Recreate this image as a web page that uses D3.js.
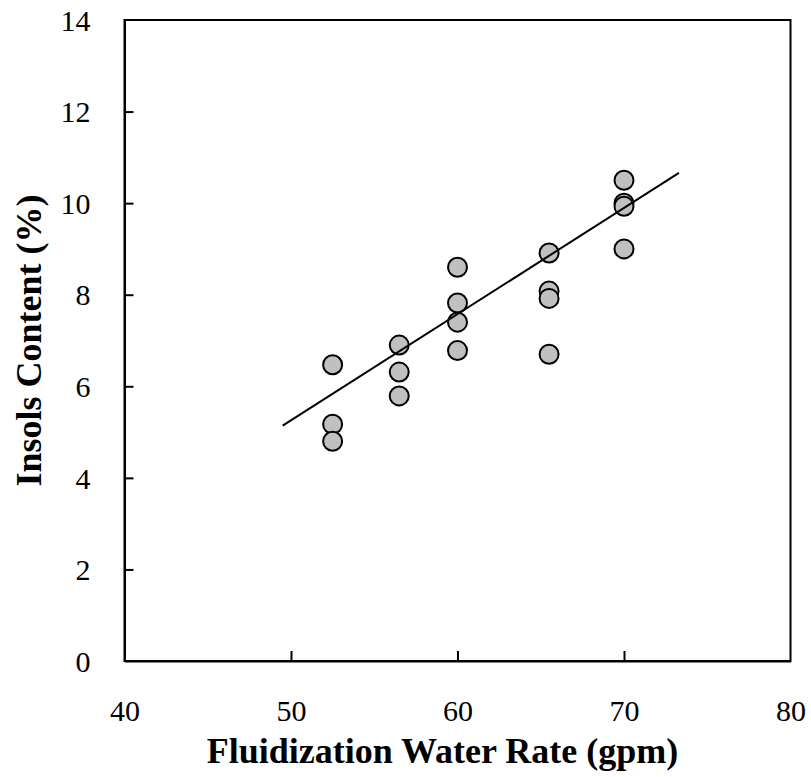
<!DOCTYPE html>
<html>
<head>
<meta charset="utf-8">
<script src="https://cdn.jsdelivr.net/npm/d3@7"></script>
<style>
  html, body { margin: 0; padding: 0; background: #fff; }
  svg { display: block; }
</style>
</head>
<body>
<svg id="chart" width="811" height="777"></svg>
<script>
// Data
const waterRate = [52.5, 52.5, 52.5, 56.5, 56.5, 56.5, 60, 60, 60, 60, 65.5, 65.5, 65.5, 65.5, 70, 70, 70, 70];
const insols    = [6.47, 5.17, 4.80, 6.90, 6.31, 5.79, 8.60, 7.82, 7.40, 6.78, 8.91, 8.08, 7.92, 6.70, 10.50, 10.00, 9.93, 9.00];
const fitX = [49.5, 73.3];
const fitY = [5.14, 10.66];
const xTicks = [40, 50, 60, 70, 80];
const yTicks = [0, 2, 4, 6, 8, 10, 12, 14];
const xTitle = "Fluidization Water Rate (gpm)";
const yTitle = "Insols Content (%)";

const svg = d3.select("#chart");
const mLeft = 124.5, mRight = 790.5, mTop = 20, mBottom = 661;
const font = "'Liberation Serif', 'Times New Roman', serif";

const x = d3.scaleLinear().domain([40, 80]).range([mLeft, mRight]);
const y = d3.scaleLinear().domain([0, 14]).range([mBottom, mTop]);

// Frame
svg.append("rect")
  .attr("x", mLeft).attr("y", mTop)
  .attr("width", mRight - mLeft).attr("height", mBottom - mTop)
  .attr("fill", "none").attr("stroke", "#000").attr("stroke-width", 2);

// Axes with inward ticks
const xAxis = svg.append("g").attr("transform", `translate(0,${mBottom})`)
  .call(d3.axisBottom(x).tickValues(xTicks).tickSizeInner(-10).tickSizeOuter(0).tickPadding(39));
const yAxis = svg.append("g").attr("transform", `translate(${mLeft},0)`)
  .call(d3.axisLeft(y).tickValues(yTicks).tickSizeInner(-9).tickSizeOuter(0).tickPadding(34));
[xAxis, yAxis].forEach(g => {
  g.select(".domain").attr("stroke", "#000").attr("stroke-width", 2);
  g.selectAll(".tick line").attr("stroke", "#000").attr("stroke-width", 2);
  g.selectAll(".tick text").attr("fill", "#000")
    .style("font-family", font).style("font-size", "30px");
});
xAxis.selectAll(".tick").filter(d => d === 40 || d === 80).select("line").remove();
yAxis.selectAll(".tick").filter(d => d === 0 || d === 14).select("line").remove();
yAxis.selectAll(".tick text").attr("dy", "0.34em");

// Points
const pts = waterRate.map((d, i) => ({x: d, y: insols[i]}));
svg.append("g").selectAll("circle").data(pts).join("circle")
  .attr("cx", d => x(d.x)).attr("cy", d => y(d.y)).attr("r", 9.5)
  .attr("fill", "#c0c0c0").attr("stroke", "#000").attr("stroke-width", 2);

// Fit line
const fit = fitX.map((d, i) => [d, fitY[i]]);
svg.append("path").datum(fit)
  .attr("d", d3.line().x(d => x(d[0])).y(d => y(d[1])))
  .attr("fill", "none").attr("stroke", "#000").attr("stroke-width", 2);

// Titles
svg.append("text").text(xTitle)
  .attr("x", (mLeft + mRight) / 2 - 15).attr("y", 763)
  .attr("text-anchor", "middle")
  .style("font-family", font).style("font-weight", "bold").style("font-size", "36px");
svg.append("text").text(yTitle)
  .attr("transform", `translate(41,${(mTop + mBottom) / 2}) rotate(-90)`)
  .attr("text-anchor", "middle")
  .style("font-family", font).style("font-weight", "bold").style("font-size", "36px");
</script>
</body>
</html>
